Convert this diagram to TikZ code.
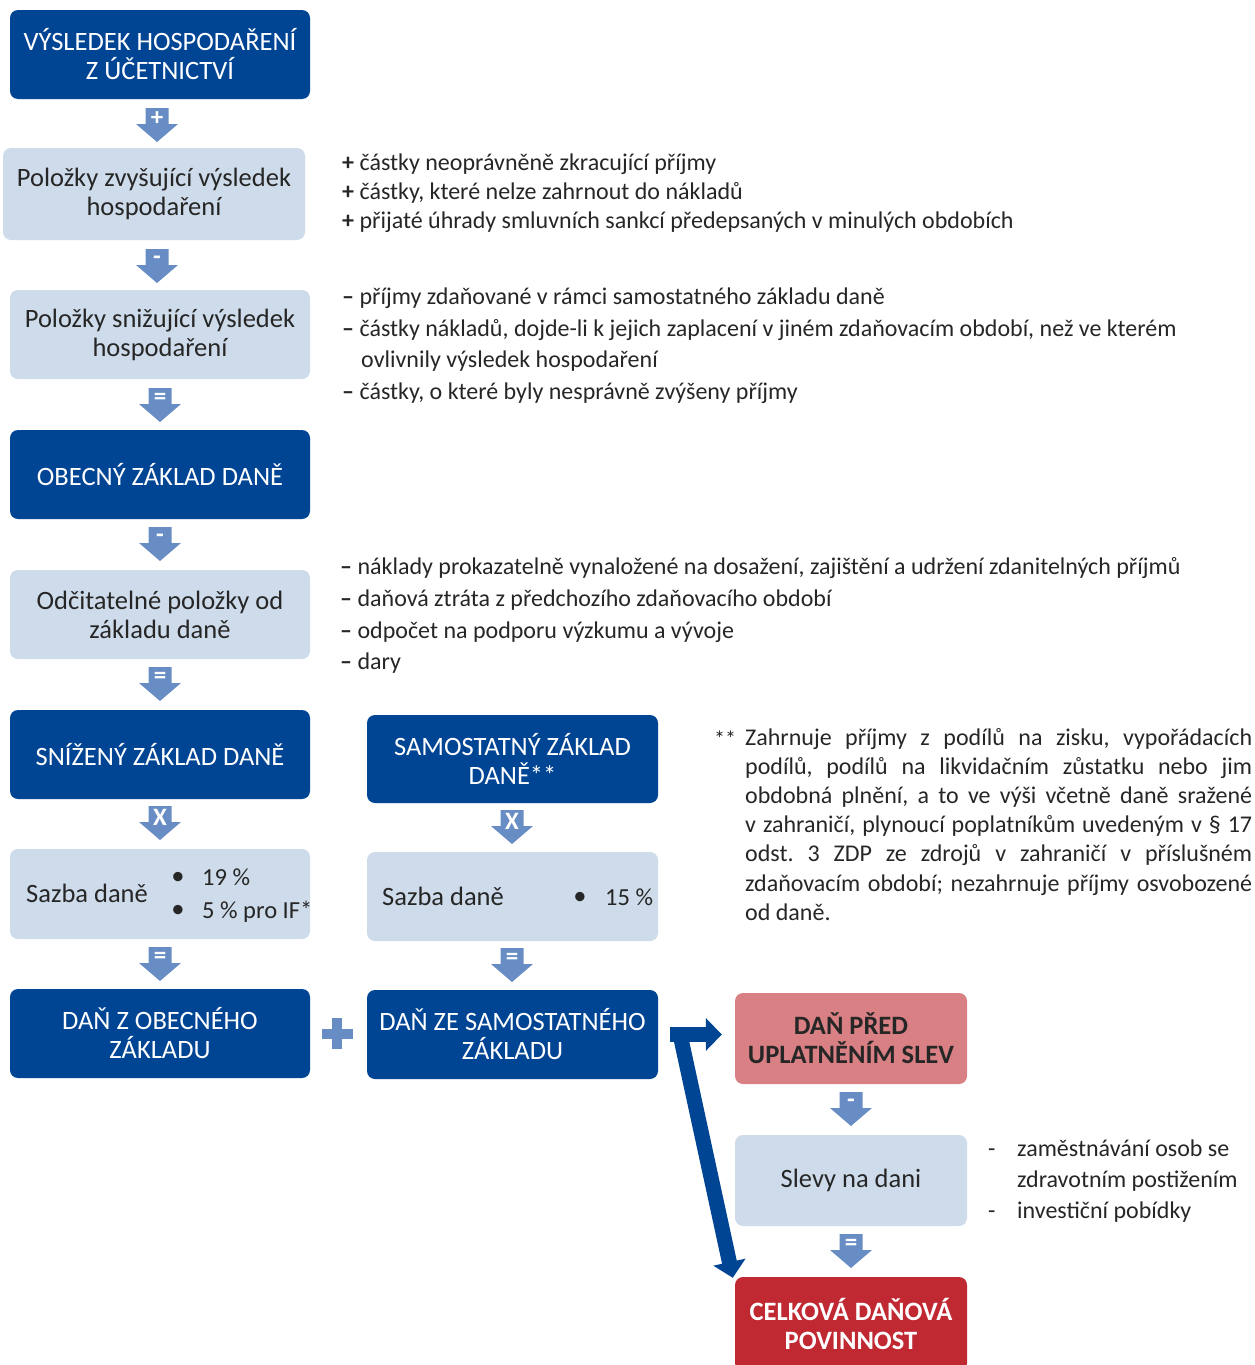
\documentclass[tikz,border=0pt]{standalone}
\usepackage{fontspec}
\setmainfont{Carlito}
\frenchspacing
\usetikzlibrary{arrows.meta}
\definecolor{dblue}{RGB}{0,68,148}
\definecolor{lblue}{RGB}{206,219,234}
\definecolor{acol}{RGB}{103,141,196}
\definecolor{tgray}{RGB}{38,38,38}
\definecolor{pinkc}{RGB}{217,128,132}
\definecolor{redc}{RGB}{192,40,50}
\begin{document}
\begin{tikzpicture}[x=1pt,y=-1pt,
 box/.style={rectangle, rounded corners=8pt, inner sep=0pt, align=center, font=\fontsize{26.5}{29}\selectfont},
 sz/.style 2 args={minimum width=#1pt, minimum height=#2pt},
 darkbox/.style={box, fill=dblue, text=white},
 lightbox/.style={box, fill=lblue, text=tgray},
 side/.style={anchor=base west, inner sep=0pt, text=tgray, font=\fontsize{24}{29}\selectfont},
 intext/.style={anchor=base west, inner sep=0pt, text=tgray, font=\fontsize{26.5}{29}\selectfont},
 ratetext/.style={intext, font=\fontsize{24.5}{29}\selectfont},
 bigarrow/.style={draw=dblue, line width=15pt, -{Triangle[width=32pt,length=16pt]}},
 barrow/.pic={
   \fill[acol] (-11.5,0) -- (11.5,0) -- (11.5,16) -- (21,16) -- (0,34) -- (-21,16) -- (-11.5,16) -- cycle;
   \node[text=white, inner sep=0pt, font=\bfseries\fontsize{25}{25}\selectfont] (-sym) at (0,11) {#1};
 }
]
\useasboundingbox (0,0) rectangle (1254,1365);

% left column
\node[darkbox, sz={300}{89}] (vys) at (160,54.5) {VÝSLEDEK HOSPODAŘENÍ\\Z ÚČETNICTVÍ};
\node[lightbox, sz={302}{92}] (zvy) at (154,194) {Položky zvyšující výsledek\\hospodaření};
\node[lightbox, sz={300}{89}] (sni) at (160,334.5) {Položky snižující výsledek\\hospodaření};
\node[darkbox, sz={300}{89}] (obe) at (160,474.5) {OBECNÝ ZÁKLAD DANĚ};
\node[lightbox, sz={300}{89}] (odc) at (160,614.5) {Odčitatelné položky od\\základu daně};
\node[darkbox, sz={300}{89}] (szd) at (160,754.5) {SNÍŽENÝ ZÁKLAD DANĚ};
\node[lightbox, sz={300}{90}] (saz1) at (160,894) {};
\node[intext] (saz1t) at (26,902) {Sazba daně};
\node[intext, anchor=base] (b1) at (178,884) {\textbullet};
\node[ratetext] (r19) at (202,885) {19 \%};
\node[intext, anchor=base] (b2) at (178,917) {\textbullet};
\node[ratetext] (r5) at (202,918) {5 \% pro IF*};
\node[darkbox, sz={300}{89}] (dzo) at (160,1033.5) {DAŇ Z OBECNÉHO\\ZÁKLADU};

% middle column
\node[darkbox, sz={291}{88}] (sam) at (512.5,759) {SAMOSTATNÝ ZÁKLAD\\DANĚ**};
\node[lightbox, sz={291}{89}] (saz2) at (512.5,896.5) {};
\node[intext] (saz2t) at (382,905) {Sazba daně};
\node[intext, anchor=base] (b3) at (580,904) {\textbullet};
\node[ratetext] (r15) at (605,905) {15 \%};
\node[darkbox, sz={291}{89}] (dze) at (512.5,1034.5) {DAŇ ZE SAMOSTATNÉHO\\ZÁKLADU};

% right column
\node[box, sz={232}{91}, fill=pinkc, text=tgray, font=\bfseries\fontsize{26.5}{29}\selectfont] (dpr) at (851,1038.5) {DAŇ PŘED\\UPLATNĚNÍM SLEV};
\node[lightbox, sz={232}{91}] (slv) at (851,1180.5) {Slevy na dani};
\node[box, sz={232}{94}, fill=redc, text=white, font=\bfseries\fontsize{26.5}{29}\selectfont] (cel) at (851,1324) {CELKOVÁ DAŇOVÁ\\POVINNOST};

% block arrows
\pic (a1) at (157,108) {barrow={+}};
\pic (a2) at (157,249) {barrow={-}};
\pic (a3) at (160,388) {barrow={=}};
\pic (a4) at (160,527) {barrow={-}};
\pic (a5) at (160,667) {barrow={=}};
\pic (a6) at (160,806) {barrow={X}};
\pic (a7) at (160,947) {barrow={=}};
\pic (a8) at (512,810) {barrow={X}};
\pic (a9) at (512,948) {barrow={=}};
\pic (a10) at (851,1092) {barrow={-}};
\pic (a11) at (851,1234) {barrow={=}};

% plus sign
\fill[acol] (332,1018) rectangle (342,1049);
\fill[acol] (321.5,1028.5) rectangle (352.5,1038.5);

% big arrows
\draw[bigarrow] ([xshift=12pt]dze.east) -- ([xshift=-13pt,yshift=4pt]dpr.west);
\draw[bigarrow] ([xshift=21pt,yshift=4pt]dze.east) -- ([xshift=-2pt,yshift=-1pt]cel.north west);

% side texts group 1
\node[side] (p1) at (342,170) {\textbf{+} částky neoprávněně zkracující příjmy};
\node[side] (p2) at (342,199) {\textbf{+} částky, které nelze zahrnout do nákladů};
\node[side] (p3) at (342,228) {\textbf{+} přijaté úhrady smluvních sankcí předepsaných v minulých obdobích};
% group 2
\node[side] (m1) at (342,304) {\textbf{–} příjmy zdaňované v rámci samostatného základu daně};
\node[side] (m2) at (342,336) {\textbf{–} částky nákladů, dojde-li k jejich zaplacení v jiném zdaňovacím období, než ve kterém};
\node[side] (m3) at (361,367) {ovlivnily výsledek hospodaření};
\node[side] (m4) at (342,399) {\textbf{–} částky, o které byly nesprávně zvýšeny příjmy};
% group 3
\node[side] (o1) at (340,574) {\textbf{–} náklady prokazatelně vynaložené na dosažení, zajištění a udržení zdanitelných příjmů};
\node[side] (o2) at (340,606) {\textbf{–} daňová ztráta z předchozího zdaňovacího období};
\node[side] (o3) at (340,638) {\textbf{–} odpočet na podporu výzkumu a vývoje};
\node[side] (o4) at (340,669) {\textbf{–} dary};
% group 4
\node[side] (s1d) at (988,1156) {-};
\node[side] (s1) at (1017,1156) {zaměstnávání osob se};
\node[side] (s2) at (1017,1187) {zdravotním postižením};
\node[side] (s3d) at (988,1218) {-};
\node[side] (s3) at (1017,1218) {investiční pobídky};

% footnote
\node[side, font=\fontsize{22}{24}\selectfont] (fst) at (714,746) {**};
\node[side] (f1) at (745,745) {\makebox[507pt][s]{Zahrnuje příjmy z podílů na zisku, vypořádacích}};
\node[side] (f2) at (745,774) {\makebox[507pt][s]{podílů, podílů na likvidačním zůstatku nebo jim}};
\node[side] (f3) at (745,803) {\makebox[507pt][s]{obdobná plnění, a to ve výši včetně daně sražené}};
\node[side] (f4) at (745,832) {\makebox[507pt][s]{v zahraničí, plynoucí poplatníkům uvedeným v § 17}};
\node[side] (f5) at (745,861) {\makebox[507pt][s]{odst. 3 ZDP ze zdrojů v zahraničí v příslušném}};
\node[side] (f6) at (745,891) {\makebox[507pt][s]{zdaňovacím období; nezahrnuje příjmy osvobozené}};
\node[side] (f7) at (745,920) {od daně.};
\end{tikzpicture}
\end{document}
